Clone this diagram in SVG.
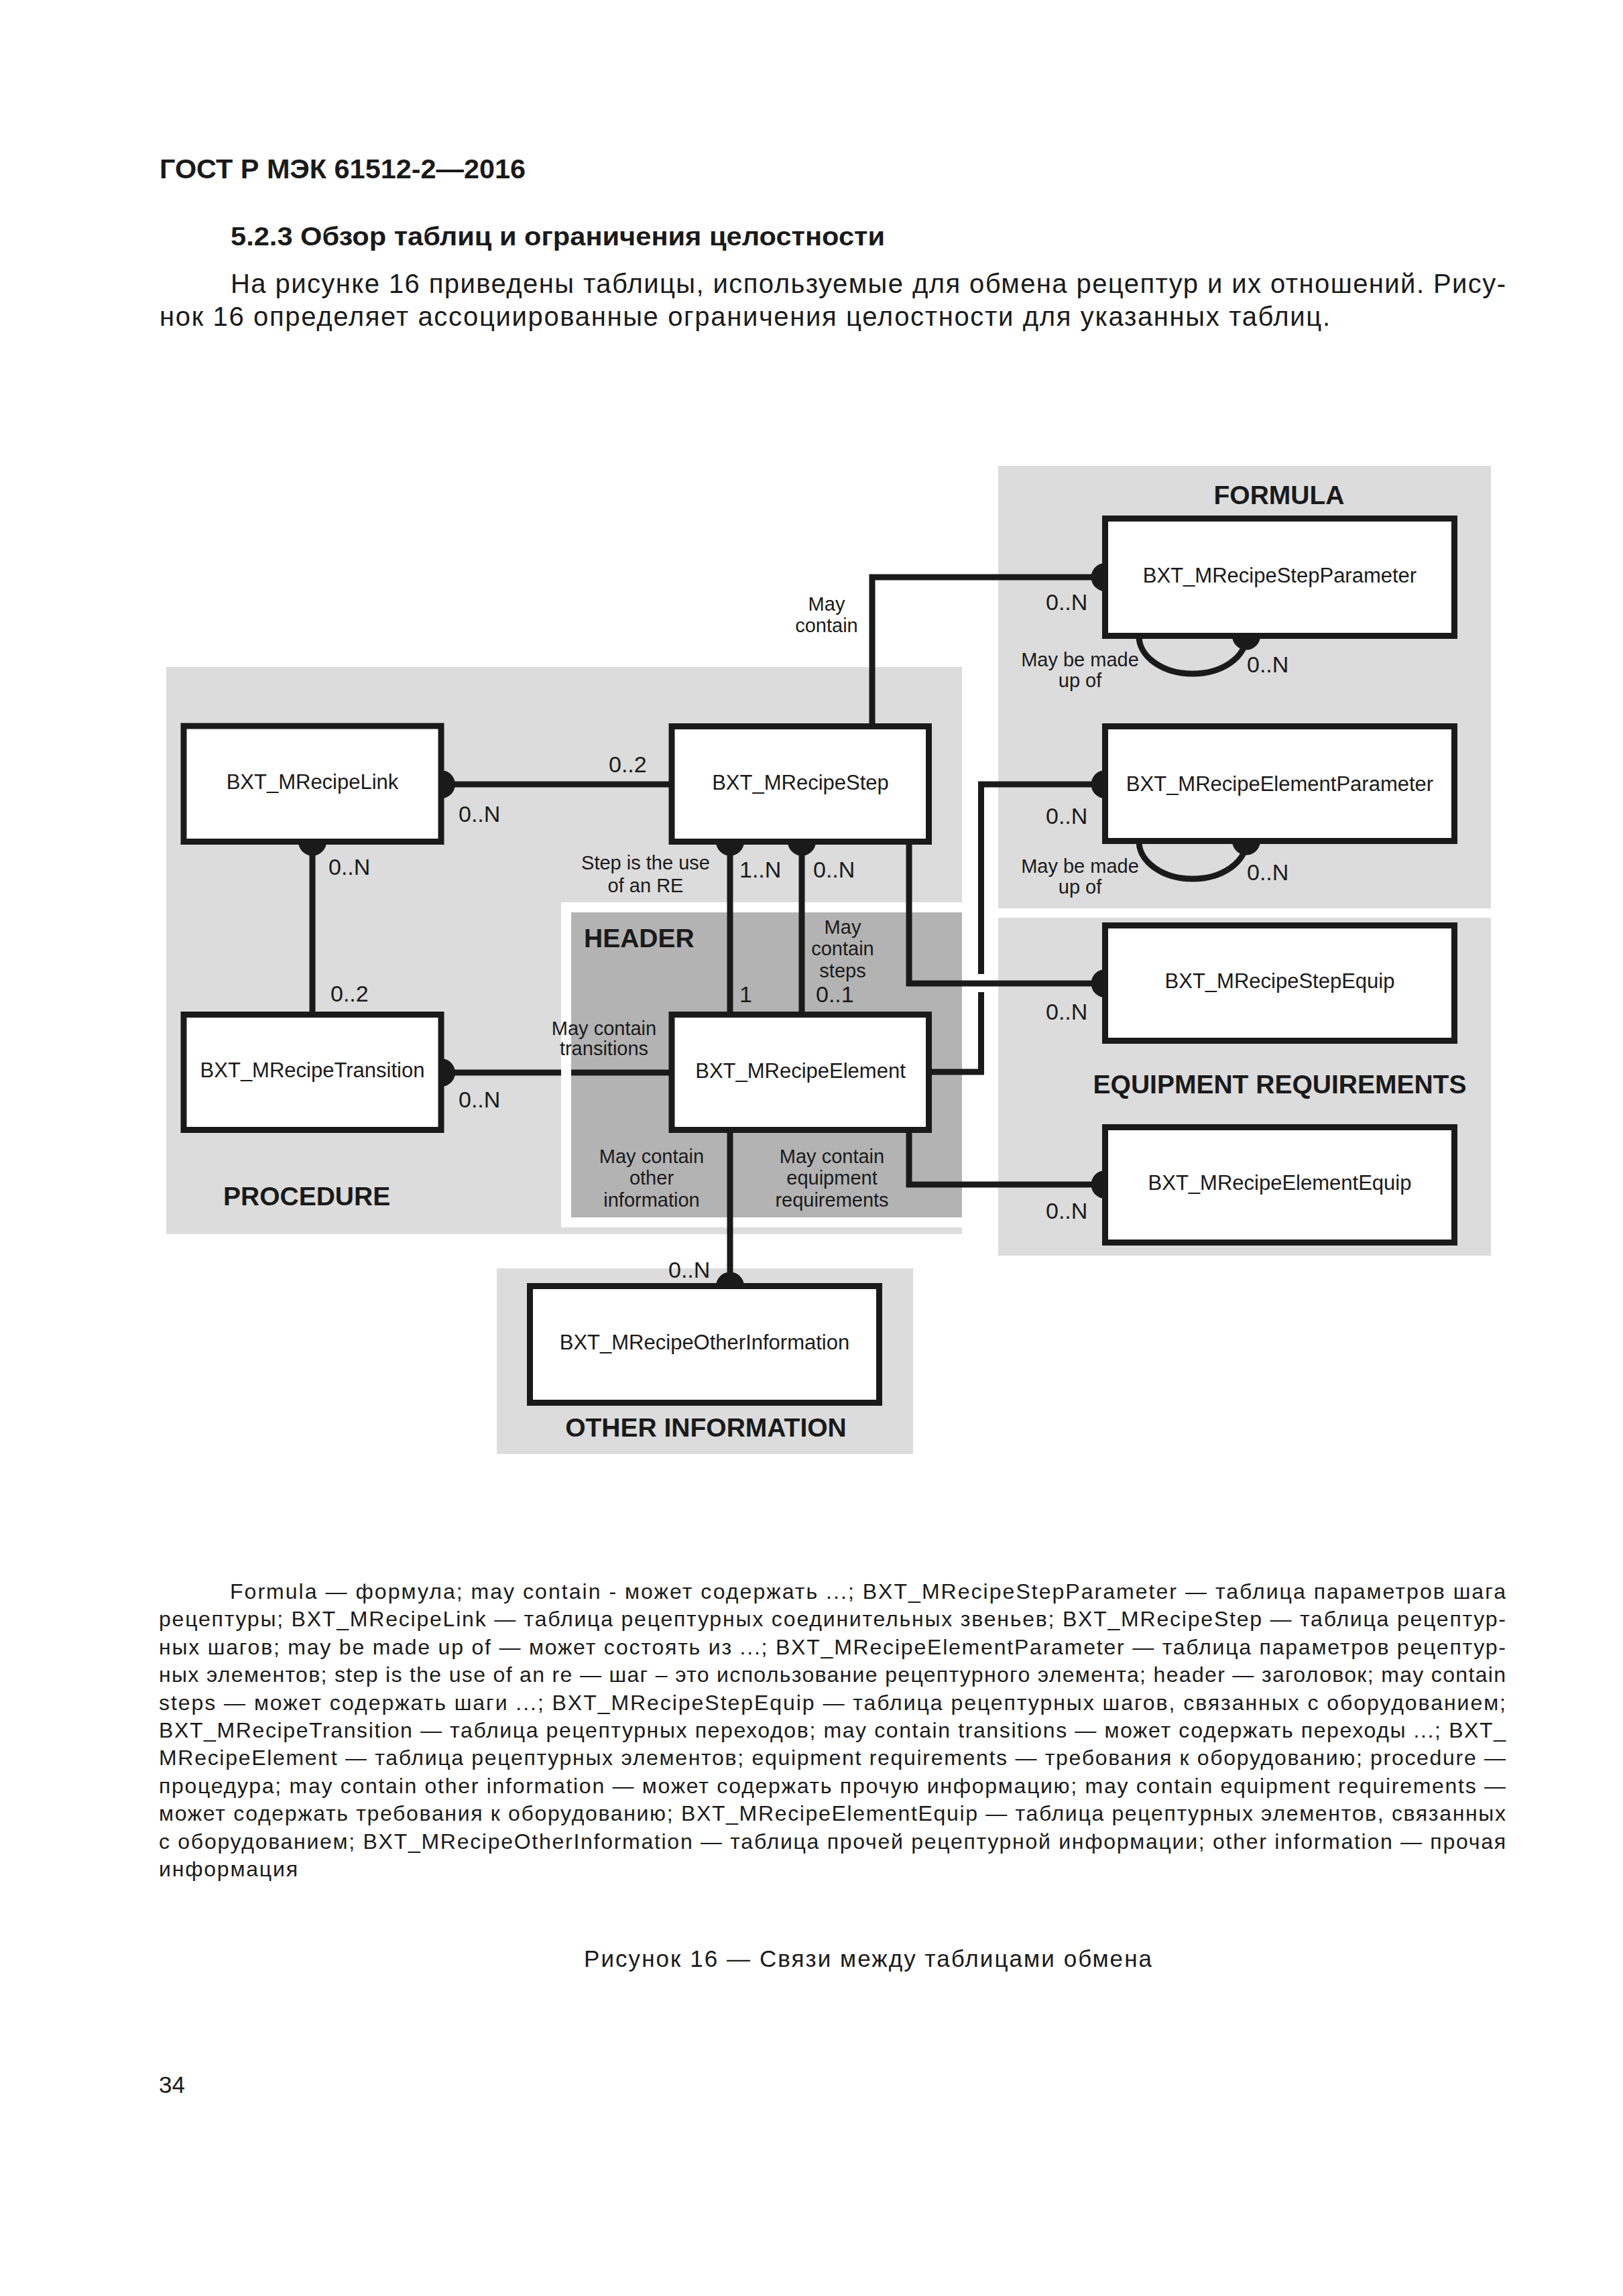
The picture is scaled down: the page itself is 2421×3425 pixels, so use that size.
<svg xmlns="http://www.w3.org/2000/svg" width="2421" height="3425" viewBox="0 0 2421 3425">
<style>
.t{font-family:"Liberation Sans",Arial,sans-serif;fill:#1a1a1a}
.b{font-weight:bold}
.panel{fill:#dcdcdc}
.hdr{fill:#b3b3b3}
.box{fill:#fff;stroke:#1a1a1a;stroke-width:9}
.ln{fill:none;stroke:#1a1a1a;stroke-width:9}
.dot{fill:#1a1a1a}
.node{font-size:31px;text-anchor:middle}
.lbl{font-size:29px;text-anchor:middle}
.card{font-size:34px}
.sec{font-size:39px;font-weight:bold}
.fn{font-size:32px}
</style>
<rect x="0" y="0" width="2421" height="3425" fill="#fff"/>

<g id="page-text">
<text class="t b" x="238" y="266" font-size="40" textLength="546" lengthAdjust="spacingAndGlyphs">ГОСТ Р МЭК 61512-2—2016</text>
<text class="t b" x="344" y="366" font-size="39" textLength="976" lengthAdjust="spacingAndGlyphs">5.2.3 Обзор таблиц и ограничения целостности</text>
<text class="t" x="344" y="437" font-size="40" textLength="1902" lengthAdjust="spacing">На рисунке 16 приведены таблицы, используемые для обмена рецептур и их отношений. Рису-</text>
<text class="t" x="238" y="486" font-size="40" textLength="1746" lengthAdjust="spacing">нок 16 определяет ассоциированные ограничения целостности для указанных таблиц.</text>
</g>

<g id="panels">
<rect class="panel" x="248" y="995" width="1187" height="846"/>
<rect class="panel" x="1489" y="695" width="735" height="660"/>
<rect class="panel" x="1489" y="1369" width="735" height="504"/>
<rect class="panel" x="741" y="1892" width="621" height="277"/>
<rect x="837" y="1346" width="598" height="485" fill="#fff"/>
<rect class="hdr" x="852" y="1361" width="583" height="455"/>
<text class="t sec" x="1908" y="752" text-anchor="middle">FORMULA</text>
<text class="t sec" x="333" y="1798">PROCEDURE</text>
<text class="t sec" x="871" y="1413">HEADER</text>
<text class="t sec" x="1909" y="1631" text-anchor="middle">EQUIPMENT REQUIREMENTS</text>
<text class="t sec" x="1053" y="2143" text-anchor="middle">OTHER INFORMATION</text>
</g>

<g id="connectors">
<path class="ln" d="M662,1170 H1000"/>
<path class="ln" d="M466,1258 V1511"/>
<path class="ln" d="M662,1600 H837 M852,1600 H1000"/>
<path class="ln" d="M1089,1258 V1511"/>
<path class="ln" d="M1196,1258 V1511"/>
<path class="ln" d="M1301,1081 V861 H1646"/>
<path class="ln" d="M1388,1599 H1463.5 V1480 M1463.5,1453 V1170 H1646"/>
<path class="ln" d="M1356,1258 V1467 H1646"/>
<path class="ln" d="M1356,1688 V1767 H1646"/>
<path class="ln" d="M1089,1688 V1916"/>
<path class="ln" d="M1699,949 A80 56 0 0 0 1859,949"/>
<path class="ln" d="M1699,1255 A80 56 0 0 0 1859,1255"/>
<circle class="dot" cx="658" cy="1170" r="21"/>
<circle class="dot" cx="466" cy="1255.5" r="21"/>
<circle class="dot" cx="658" cy="1600" r="21"/>
<circle class="dot" cx="1089" cy="1255.5" r="21"/>
<circle class="dot" cx="1196" cy="1255.5" r="21"/>
<circle class="dot" cx="1648.5" cy="861" r="21"/>
<circle class="dot" cx="1648.5" cy="1170" r="21"/>
<circle class="dot" cx="1648.5" cy="1467" r="21"/>
<circle class="dot" cx="1648.5" cy="1767" r="21"/>
<circle class="dot" cx="1089" cy="1918.5" r="21"/>
<circle class="dot" cx="1859" cy="948.5" r="21"/>
<circle class="dot" cx="1859" cy="1254.5" r="21"/>
</g>

<g id="n-link"><rect class="box" x="274" y="1083" width="384" height="172.5"/><text class="t node" x="466" y="1177">BXT_MRecipeLink</text></g>
<g id="n-step"><rect class="box" x="1002" y="1083.5" width="383.5" height="172"/><text class="t node" x="1194" y="1178">BXT_MRecipeStep</text></g>
<g id="n-transition"><rect class="box" x="274" y="1513.5" width="384" height="172"/><text class="t node" x="466" y="1607">BXT_MRecipeTransition</text></g>
<g id="n-element"><rect class="box" x="1002" y="1513.5" width="383.5" height="172"/><text class="t node" x="1194" y="1607.5">BXT_MRecipeElement</text></g>
<g id="n-stepparam"><rect class="box" x="1648.5" y="773.5" width="521" height="175"/><text class="t node" x="1909" y="869">BXT_MRecipeStepParameter</text></g>
<g id="n-elemparam"><rect class="box" x="1648.5" y="1083.5" width="521" height="171"/><text class="t node" x="1909" y="1180">BXT_MRecipeElementParameter</text></g>
<g id="n-stepequip"><rect class="box" x="1648.5" y="1380.5" width="521" height="172"/><text class="t node" x="1909" y="1474">BXT_MRecipeStepEquip</text></g>
<g id="n-elemequip"><rect class="box" x="1648.5" y="1681.5" width="521" height="172"/><text class="t node" x="1909" y="1775">BXT_MRecipeElementEquip</text></g>
<g id="n-otherinfo"><rect class="box" x="790.5" y="1918.5" width="521" height="174"/><text class="t node" x="1051" y="2013">BXT_MRecipeOtherInformation</text></g>

<g id="connector-labels">
<text class="t card" x="908" y="1152">0..2</text>
<text class="t card" x="684" y="1226">0..N</text>
<text class="t card" x="490" y="1305">0..N</text>
<text class="t card" x="493" y="1494">0..2</text>
<text class="t card" x="684" y="1652">0..N</text>
<text class="t lbl" x="901" y="1544">May contain</text>
<text class="t lbl" x="901" y="1574">transitions</text>
<text class="t lbl" x="963" y="1297">Step is the use</text>
<text class="t lbl" x="963" y="1331">of an RE</text>
<text class="t card" x="1103" y="1309">1..N</text>
<text class="t card" x="1213" y="1309">0..N</text>
<text class="t lbl" x="1257" y="1393">May</text>
<text class="t lbl" x="1257" y="1425">contain</text>
<text class="t lbl" x="1257" y="1458">steps</text>
<text class="t card" x="1103" y="1495">1</text>
<text class="t card" x="1217" y="1495">0..1</text>
<text class="t lbl" x="1233" y="911">May</text>
<text class="t lbl" x="1233" y="943">contain</text>
<text class="t card" x="1560" y="910">0..N</text>
<text class="t lbl" x="1611" y="994">May be made</text>
<text class="t lbl" x="1611" y="1025">up of</text>
<text class="t card" x="1860" y="1003">0..N</text>
<text class="t card" x="1560" y="1229">0..N</text>
<text class="t lbl" x="1611" y="1302">May be made</text>
<text class="t lbl" x="1611" y="1333">up of</text>
<text class="t card" x="1860" y="1313">0..N</text>
<text class="t card" x="1560" y="1521">0..N</text>
<text class="t card" x="1560" y="1818">0..N</text>
<text class="t card" x="997" y="1906">0..N</text>
<text class="t lbl" x="972" y="1735">May contain</text>
<text class="t lbl" x="972" y="1767">other</text>
<text class="t lbl" x="972" y="1800">information</text>
<text class="t lbl" x="1241" y="1735">May contain</text>
<text class="t lbl" x="1241" y="1767">equipment</text>
<text class="t lbl" x="1241" y="1800">requirements</text>
</g>

<g id="footnote">
<text class="t fn" x="343" y="2385" textLength="1903" lengthAdjust="spacing">Formula — формула; may contain - может содержать ...; BXT_MRecipeStepParameter — таблица параметров шага</text>
<text class="t fn" x="237" y="2426.4" textLength="2009" lengthAdjust="spacing">рецептуры; BXT_MRecipeLink — таблица рецептурных соединительных звеньев; BXT_MRecipeStep — таблица рецептур-</text>
<text class="t fn" x="237" y="2467.8" textLength="2009" lengthAdjust="spacing">ных шагов; may be made up of — может состоять из ...; BXT_MRecipeElementParameter — таблица параметров рецептур-</text>
<text class="t fn" x="237" y="2509.2" textLength="2009" lengthAdjust="spacing">ных элементов; step is the use of an re — шаг – это использование рецептурного элемента; header — заголовок; may contain</text>
<text class="t fn" x="237" y="2550.6" textLength="2009" lengthAdjust="spacing">steps — может содержать шаги ...; BXT_MRecipeStepEquip — таблица рецептурных шагов, связанных с оборудованием;</text>
<text class="t fn" x="237" y="2592" textLength="2009" lengthAdjust="spacing">BXT_MRecipeTransition — таблица рецептурных переходов; may contain transitions — может содержать переходы ...; BXT_</text>
<text class="t fn" x="237" y="2633.4" textLength="2009" lengthAdjust="spacing">MRecipeElement — таблица рецептурных элементов; equipment requirements — требования к оборудованию; procedure —</text>
<text class="t fn" x="237" y="2674.8" textLength="2009" lengthAdjust="spacing">процедура; may contain other information — может содержать прочую информацию; may contain equipment requirements —</text>
<text class="t fn" x="237" y="2716.2" textLength="2009" lengthAdjust="spacing">может содержать требования к оборудованию; BXT_MRecipeElementEquip — таблица рецептурных элементов, связанных</text>
<text class="t fn" x="237" y="2757.6" textLength="2009" lengthAdjust="spacing">с оборудованием; BXT_MRecipeOtherInformation — таблица прочей рецептурной информации; other information — прочая</text>
<text class="t fn" x="237" y="2799" textLength="207" lengthAdjust="spacing">информация</text>
</g>

<g id="caption">
<text class="t" x="871" y="2934" font-size="35" textLength="847" lengthAdjust="spacing">Рисунок 16 — Связи между таблицами обмена</text>
<text class="t" x="237" y="3122" font-size="35">34</text>
</g>
</svg>
